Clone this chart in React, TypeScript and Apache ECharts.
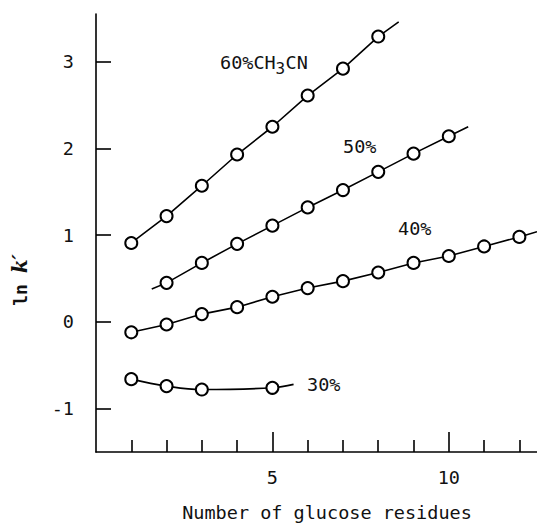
import React, { useEffect, useRef } from "react";
import * as echarts from "echarts";

const FONT = "DejaVu Sans Mono";

// 60% CH3CN
const x60 = [1, 2, 3, 4, 5, 6, 7, 8];
const y60 = [0.91, 1.22, 1.57, 1.93, 2.25, 2.61, 2.92, 3.29];
const line60End = [8.58, 3.46];

// 50%
const x50 = [2, 3, 4, 5, 6, 7, 8, 9, 10];
const y50 = [0.45, 0.68, 0.9, 1.11, 1.32, 1.52, 1.73, 1.94, 2.14];
const line50Start = [1.58, 0.38];
const line50End = [10.55, 2.25];

// 40%
const x40 = [1, 2, 3, 4, 5, 6, 7, 8, 9, 10, 11, 12];
const y40 = [-0.12, -0.03, 0.09, 0.17, 0.29, 0.39, 0.47, 0.57, 0.68, 0.76, 0.87, 0.98];
const line40End = [12.5, 1.04];

// 30%
const x30 = [1, 2, 3, 5];
const y30 = [-0.66, -0.74, -0.78, -0.76];
const line30End = [5.6, -0.72];

const yTicks = [-1, 0, 1, 2, 3];
const xMinorTicks = [1, 2, 3, 4, 6, 7, 8, 9, 11, 12];
const xMajorTicks = [5, 10];

const pts = (xs: number[], ys: number[]) => xs.map((x, i) => [x, ys[i]]);

export default function App() {
  const ref = useRef<HTMLDivElement>(null);
  useEffect(() => {
    if (!ref.current) return;
    const chart = echarts.init(ref.current, null, { renderer: "svg" });
    const lineStyle = { color: "#000", width: 1.6 };
    const scatter = (xs: number[], ys: number[]) => ({
      type: "scatter",
      data: pts(xs, ys),
      symbol: "circle",
      symbolSize: 12,
      itemStyle: { color: "#fff", borderColor: "#000", borderWidth: 2, opacity: 1 },
      emphasis: { disabled: true },
      z: 5,
    });
    const line = (data: number[][], smooth: number | boolean = false) => ({
      type: "line",
      data,
      showSymbol: false,
      symbol: "none",
      smooth,
      lineStyle,
      z: 3,
    });
    const txt = { fontFamily: FONT, fontSize: 18.5, color: "#111" };
    const t = (text: string, x: number, y: number, size = 18.5) => ({
      type: "text",
      x,
      y,
      style: { text, fontFamily: FONT, fontSize: size, fill: "#111", verticalAlign: "middle" },
    });
    chart.setOption({
      animation: false,
      backgroundColor: "#fff",
      grid: { left: 96, right: 0, top: 14, bottom: 72, containLabel: false },
      xAxis: [
        {
          type: "value",
          min: 0,
          max: 12.5,
          position: "bottom",
          splitLine: { show: false },
          axisLine: { show: true, onZero: false, lineStyle: { color: "#000", width: 1.6 } },
          axisTick: {
            show: true,
            inside: true,
            length: 12,
            customValues: xMinorTicks,
            lineStyle: { color: "#000", width: 1.6 },
          },
          axisLabel: {
            show: true,
            customValues: xMajorTicks,
            margin: 16,
            ...txt,
          },
        },
        {
          type: "value",
          min: 0,
          max: 12.5,
          position: "bottom",
          splitLine: { show: false },
          axisLine: { show: false, onZero: false },
          axisTick: {
            show: true,
            inside: true,
            length: 20,
            customValues: xMajorTicks,
            lineStyle: { color: "#000", width: 1.6 },
          },
          axisLabel: { show: false },
        },
      ],
      yAxis: {
        type: "value",
        min: -1.5,
        max: 3.55,
        splitLine: { show: false },
        axisLine: { show: true, onZero: false, lineStyle: { color: "#000", width: 1.6 } },
        axisTick: {
          show: true,
          inside: true,
          length: 15,
          customValues: yTicks,
          lineStyle: { color: "#000", width: 1.6 },
        },
        axisLabel: { show: true, customValues: yTicks, margin: 22, ...txt },
      },
      series: [
        line([...pts(x60, y60), line60End]),
        line([line50Start, ...pts(x50, y50), line50End]),
        line([...pts(x40, y40), line40End]),
        line([...pts(x30, y30), line30End], 0.4),
        scatter(x60, y60),
        scatter(x50, y50),
        scatter(x40, y40),
        scatter(x30, y30),
      ],
      graphic: [
        t("60%CH", 220, 62),
        t("3", 275.5, 68, 16),
        t("CN", 285.5, 62),
        t("50%", 343, 146),
        t("40%", 398, 228),
        t("30%", 307, 384),
        {
          type: "text",
          x: 327,
          y: 512,
          style: {
            text: "Number of glucose residues",
            fontFamily: FONT,
            fontSize: 18.5,
            fill: "#111",
            align: "center",
            verticalAlign: "middle",
          },
        },
        {
          type: "text",
          x: 20,
          y: 280,
          rotation: Math.PI / 2,
          style: {
            text: "{r|ln }{k|k′}",
            align: "center",
            verticalAlign: "middle",
            rich: {
              r: { fontFamily: FONT, fontSize: 18, fontWeight: "bold", fill: "#111" },
              k: { fontFamily: "DejaVu Serif", fontSize: 20, fontStyle: "italic", fontWeight: "bold", fill: "#111" },
            },
          },
        },
      ],
    });
    return () => chart.dispose();
  }, []);
  return (
    <div
      ref={ref}
      style={{ position: "fixed", left: 0, top: 0, width: 537, height: 524 }}
    />
  );
}
